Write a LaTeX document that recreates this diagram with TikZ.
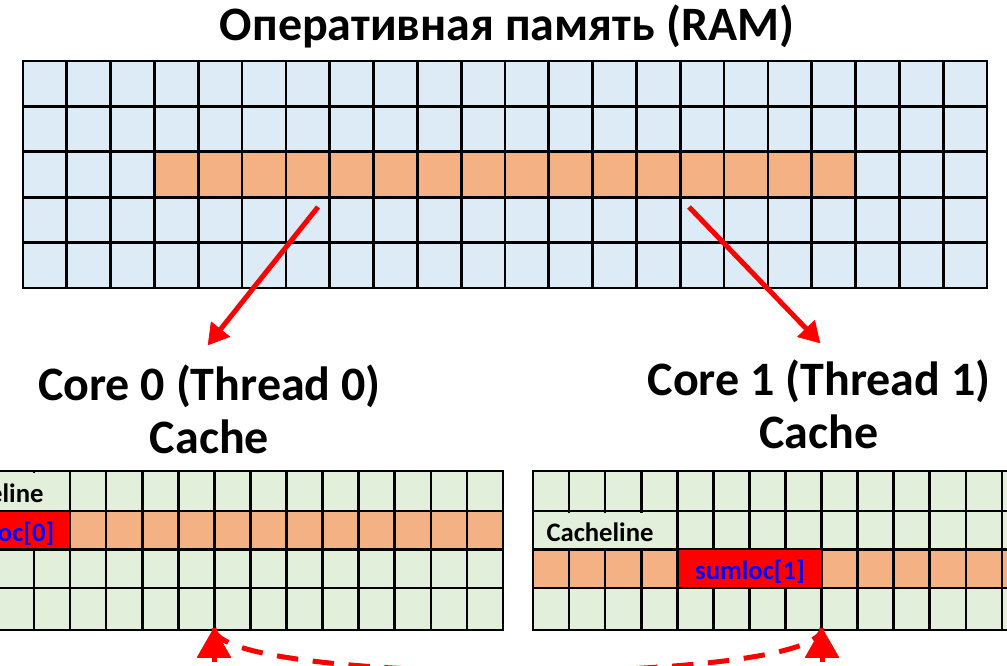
\documentclass[tikz,border=0pt]{standalone}
\usepackage{fontspec}
\setmainfont{Carlito}
\usetikzlibrary{arrows.meta}
\definecolor{ramblue}{HTML}{DDEBF7}
\definecolor{cachegreen}{HTML}{E2EFDA}
\definecolor{lineorange}{HTML}{F4B183}
\definecolor{memred}{HTML}{FF0000}
\definecolor{labelblue}{HTML}{0000FF}
\begin{document}
\begin{tikzpicture}[x=0.75pt,y=-0.75pt,
  gridline/.style={line width=2pt,black,line cap=rect},
  bigtitle/.style={font=\bfseries\fontsize{36}{40}\selectfont,anchor=base,inner sep=0pt},
  celllabel/.style={font=\bfseries\fontsize{20}{23}\selectfont,anchor=base,inner sep=0pt},
  loadarrow/.style={memred,line width=3.75pt,-{Triangle[length=15.5pt,width=18.5pt,line width=0.5pt,round]}},
  swaphead/.style={memred,line width=3.75pt,-{Triangle[length=23pt,width=26pt,line width=1pt,round]}},
  swapline/.style={memred,line width=3.75pt,dash pattern=on 16pt off 11pt}]
\useasboundingbox (0,0) rectangle (1007,665);
\clip (0,0) rectangle (1007,665);

% ---------- RAM ----------
\fill[ramblue] (23,61) rectangle (987,288);
\fill[lineorange] ({23+3*43.818},{61+2*45.4}) rectangle ({23+19*43.818},{61+3*45.4});
\foreach \i in {0,...,22} \draw[gridline] ({23+\i*43.818},61) -- ({23+\i*43.818},288);
\foreach \j in {0,...,5} \draw[gridline] (23,{61+\j*45.4}) -- (987,{61+\j*45.4});
\node[bigtitle] (title) at (507,40) {Оперативная память (RAM)};

% ---------- Cache 0 ----------
\fill[cachegreen] (-2.1,471) rectangle (503,630);
\fill[lineorange] (-2.1,511) rectangle (503,549.3);
\foreach \i in {0,...,14} \draw[gridline] ({-2.1+\i*36.08},471) -- ({-2.1+\i*36.08},630);
\foreach \y in {471,511,549.3,588,630} \draw[gridline] (-2.1,\y) -- (503,\y);
\fill[memred] (-80,512.2) rectangle (69,548.2);
\fill[cachegreen] (-75,472.5) rectangle (58,509.5);
\node[celllabel] (cl0) at (-10,502) {Cacheline};
\node[celllabel,text=labelblue] (sum0) at (-0.5,541) {sumloc[0]};
\node[bigtitle] (core0) at (209.5,400) {Core 0 (Thread 0)};
\node[bigtitle] (cache0) at (209.5,453) {Cache};

% ---------- Cache 1 ----------
\fill[cachegreen] (533,471) rectangle (1040,630);
\fill[lineorange] (533,549.3) rectangle (1040,588);
\foreach \i in {0,...,14} \draw[gridline] ({533+\i*36.07},471) -- ({533+\i*36.07},630);
\foreach \y in {471,511,549.3,588,630} \draw[gridline] (533,\y) -- (1040,\y);
\fill[memred] (678.6,550.4) rectangle (820.6,587);
\fill[cachegreen] (538,512.5) rectangle (668,548);
\node[celllabel] (cl1) at (600,541.5) {Cacheline};
\node[celllabel,text=labelblue] (sum1) at (750,579) {sumloc[1]};
\node[bigtitle] (core1) at (819,395) {Core 1 (Thread 1)};
\node[bigtitle] (cache1) at (819,448) {Cache};

% ---------- arrows RAM -> caches ----------
\coordinate (ramL) at (318,207);
\coordinate (toL) at (208,345);
\coordinate (ramR) at (689,207);
\coordinate (toR) at (820,343);
\draw[loadarrow] (ramL) -- (toL);
\draw[loadarrow] (ramR) -- (toR);

% ---------- dashed exchange between caches ----------
\coordinate (tipL) at (214,628);
\coordinate (tipR) at (822,628);
\coordinate (baseL) at (214,662);
\coordinate (baseR) at (822,662);
\draw[swapline] (tipL) .. controls (214,686) and (822,686) .. (tipR);
\draw[swaphead] (baseL) -- (tipL);
\draw[swaphead] (baseR) -- (tipR);
\end{tikzpicture}
\end{document}
